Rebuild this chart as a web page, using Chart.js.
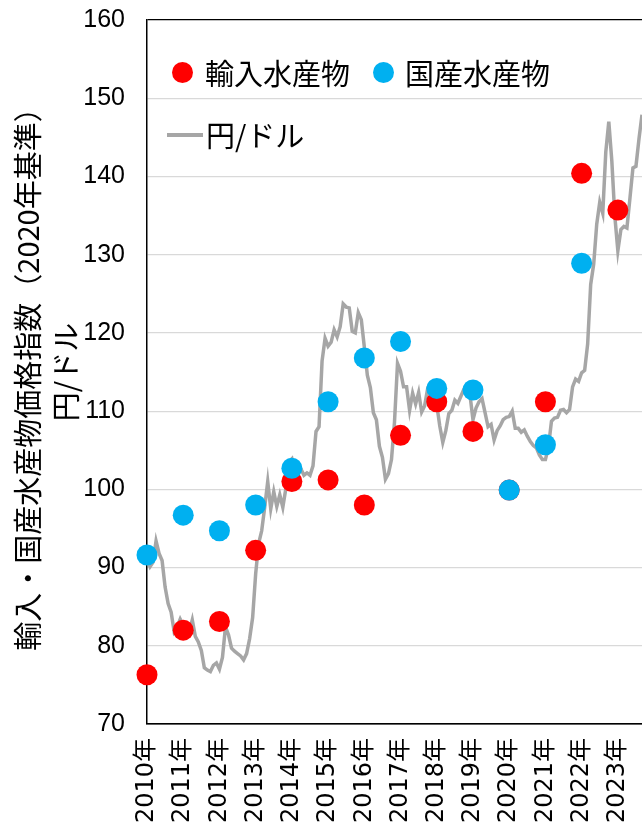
<!DOCTYPE html>
<html>
<head>
<meta charset="utf-8">
<script src="https://cdn.jsdelivr.net/npm/chart.js@4.4.0/dist/chart.umd.min.js"></script>
<style>
html,body{margin:0;padding:0;background:#fff;}
#wrap{position:relative;width:642px;height:834px;overflow:hidden;}
#c{position:absolute;left:0;top:0;}
.lg{position:absolute;font-family:'Noto Sans CJK JP',sans-serif;font-size:29px;color:#000;white-space:nowrap;height:40px;line-height:40px;}
.dot{position:absolute;width:21px;height:21px;border-radius:50%;}
.ln{position:absolute;height:4px;background:#a6a6a6;}
</style>
</head>
<body>
<div id="wrap">
<canvas id="c" width="642" height="834"></canvas>
<div class="dot" style="left:172px;top:62px;background:#ff0000"></div>
<div class="lg" style="left:205px;top:52px;">輸入水産物</div>
<div class="dot" style="left:373px;top:62px;background:#00b0f0"></div>
<div class="lg" style="left:405px;top:52px;">国産水産物</div>
<div class="ln" style="left:167px;top:133px;width:36px;"></div>
<div class="lg" style="left:206px;top:114px;">円/ドル</div>
</div>
<script>
const years = ['2010年','2011年','2012年','2013年','2014年','2015年','2016年','2017年','2018年','2019年','2020年','2021年','2022年','2023年'];

// 輸入水産物価格指数 (2020=100), one value per year (January position)
const importIndex = [76.3, 82.0, 83.1, 92.2, 101.0, 101.2, 98.0, 106.9, 111.2, 107.4, 99.9, 111.2, 140.4, 135.7];

// 国産水産物価格指数 (2020=100)
const domesticIndex = [91.6, 96.7, 94.7, 98.0, 102.7, 111.2, 116.8, 118.9, 112.9, 112.7, 99.9, 105.7, 128.9, null];

// 円/ドル monthly averages, 2010-01 .. 2023-09
const usdJpy = [
  91.1, 90.1, 90.7, 93.4, 91.8, 90.9, 87.5, 85.4, 84.3, 81.8, 82.4, 83.4,
  82.6, 82.5, 81.8, 83.3, 81.2, 80.5, 79.4, 77.2, 76.9, 76.7, 77.5, 77.8,
  77.0, 78.5, 82.4, 81.4, 79.7, 79.3, 79.0, 78.7, 78.2, 79.0, 80.9, 83.6,
  89.2, 93.1, 94.7, 97.7, 101.0, 97.5, 99.7, 97.8, 99.3, 97.7, 100.1, 103.5,
  103.9, 102.0, 102.3, 102.6, 101.8, 102.1, 101.8, 103.0, 107.4, 108.0, 116.4, 119.3,
  118.3, 118.8, 120.4, 119.5, 120.8, 123.7, 123.3, 123.2, 120.2, 120.0, 122.6, 121.7,
  118.2, 114.6, 113.0, 109.8, 108.9, 105.5, 104.1, 101.3, 102.0, 103.8, 108.6, 116.1,
  115.1, 113.1, 113.1, 110.1, 112.3, 110.9, 112.4, 109.9, 110.7, 112.9, 112.8, 112.9,
  110.8, 108.1, 106.0, 107.5, 109.7, 110.1, 111.4, 111.0, 111.9, 112.8, 113.3, 112.1,
  108.9, 110.4, 111.2, 111.6, 109.8, 108.0, 108.3, 106.3, 107.5, 108.1, 108.9, 109.2,
  109.3, 110.0, 107.8, 107.8, 107.3, 107.6, 106.8, 106.1, 105.6, 105.3, 104.4, 103.8,
  103.8, 105.4, 108.7, 109.1, 109.2, 110.1, 110.2, 109.8, 110.2, 113.1, 114.1, 113.8,
  114.9, 115.2, 118.6, 126.2, 128.8, 133.9, 136.7, 135.3, 143.1, 147.0, 142.0, 134.9,
  130.5, 133.2, 133.6, 133.4, 137.2, 141.1, 141.3, 144.8, 147.9
];

const yTitle = ['輸入・国産水産物価格指数（2020年基準）', '円/ドル'];

const toYearPts = arr => arr.map((v, i) => ({x: i * 12, y: v})).filter(p => p.y !== null);

new Chart(document.getElementById('c'), {
  type: 'line',
  data: {
    datasets: [
      {
        label: '国産水産物',
        data: toYearPts(domesticIndex),
        showLine: false,
        pointRadius: 10.5,
        pointHoverRadius: 10.5,
        pointBorderWidth: 0,
        pointBackgroundColor: '#00b0f0',
        backgroundColor: '#00b0f0',
        clip: false,
        order: 0
      },
      {
        label: '輸入水産物',
        data: toYearPts(importIndex),
        showLine: false,
        pointRadius: 10.5,
        pointHoverRadius: 10.5,
        pointBorderWidth: 0,
        pointBackgroundColor: '#ff0000',
        backgroundColor: '#ff0000',
        clip: false,
        order: 1
      },
      {
        label: '円/ドル',
        data: usdJpy.map((v, i) => ({x: i, y: v})),
        borderColor: '#a6a6a6',
        borderWidth: 3.5,
        pointRadius: 0,
        tension: 0,
        fill: false,
        order: 2
      }
    ]
  },
  options: {
    responsive: false,
    animation: false,
    devicePixelRatio: 1,
    layout: {autoPadding: false, padding: {top: 20, right: 0, left: 0, bottom: 0}},
    plugins: {legend: {display: false}, tooltip: {enabled: false}},
    scales: {
      x: {
        type: 'linear',
        min: 0,
        max: usdJpy.length - 1,
        afterBuildTicks: s => { s.ticks = years.map((_, i) => ({value: i * 12})); },
        afterFit: s => { s.height = 110; s.paddingLeft = 0; s.paddingRight = 0; },
        ticks: {
          autoSkip: false,
          minRotation: 90,
          maxRotation: 90,
          padding: 14,
          color: '#000',
          font: {family: "'DejaVu Sans','Noto Sans CJK JP'", size: 24},
          callback: v => years[Math.round(v / 12)]
        },
        grid: {display: false, drawTicks: false},
        border: {display: true, color: '#000', width: 1.5}
      },
      y: {
        min: 70,
        max: 160,
        afterFit: s => { s.width = 147; s.paddingTop = 0; s.paddingBottom = 0; },
        ticks: {
          stepSize: 10,
          padding: 22,
          color: '#000',
          font: {family: "'Liberation Sans Narrow','Liberation Sans'", size: 25}
        },
        grid: {
          drawTicks: false,
          lineWidth: 1.2,
          color: ctx => (ctx.tick && (ctx.tick.value === 160 || ctx.tick.value === 70)) ? '#000' : '#d9d9d9'
        },
        border: {display: true, color: '#000', width: 1.5},
        title: {
          display: true,
          text: yTitle,
          color: '#000',
          font: {family: "'Noto Sans CJK JP'", size: 29, lineHeight: 38 / 29},
          padding: {top: 9, bottom: 0}
        }
      }
    }
  }
});
</script>
</body>
</html>
